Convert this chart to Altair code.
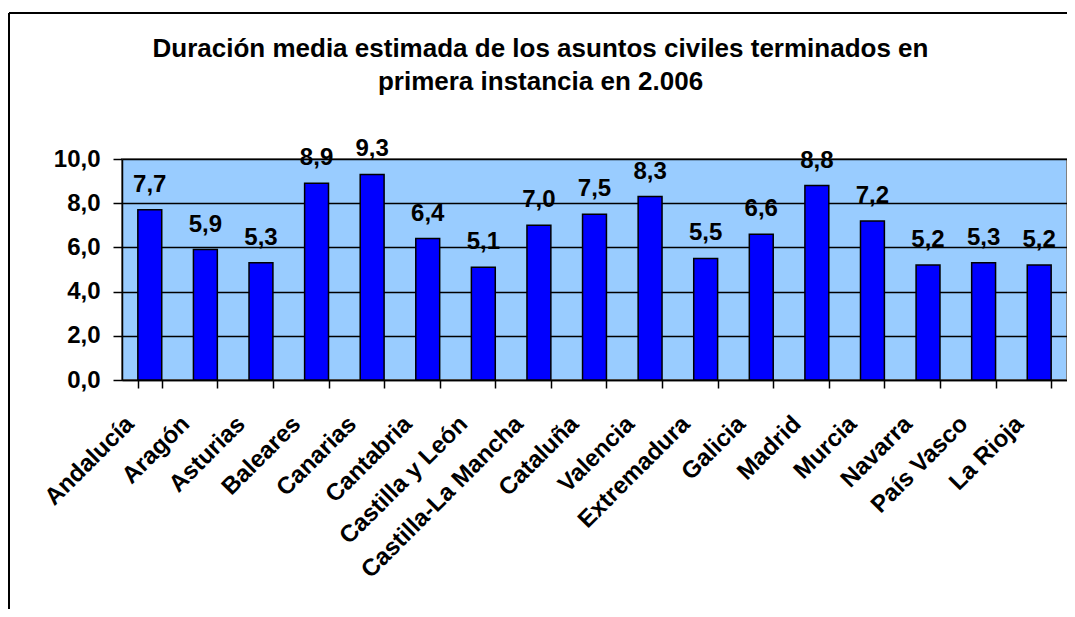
import altair as alt
import pandas as pd

regions = ["Andalucía", "Aragón", "Asturias", "Baleares", "Canarias", "Cantabria",
           "Castilla y León", "Castilla-La Mancha", "Cataluña", "Valencia",
           "Extremadura", "Galicia", "Madrid", "Murcia", "Navarra", "País Vasco",
           "La Rioja"]
values = [7.7, 5.9, 5.3, 8.9, 9.3, 6.4, 5.1, 7.0, 7.5, 8.3, 5.5, 6.6, 8.8, 7.2,
          5.2, 5.3, 5.2]
title_lines = ["Duración media estimada de los asuntos civiles terminados en",
               "primera instancia en 2.006"]

df = pd.DataFrame({"region": regions, "valor": values})
df["etiqueta"] = [f"{v:.1f}".replace(".", ",") for v in values]

FONT = "Liberation Sans"
W, H = 945, 221

x_enc = alt.X(
    "region:N", sort=regions, title=None,
    scale=alt.Scale(paddingInner=0.57, paddingOuter=0.285),
    axis=alt.Axis(labelAngle=-45, labelAlign="right", labelBaseline="alphabetic",
                  labelFont=FONT, labelFontSize=24, labelFontWeight="bold",
                  labelColor="black", labelPadding=37, labelOffset=-15,
                  labelLimit=0, tickBand="extent",
                  tickColor="black", tickSize=8, tickWidth=1.5,
                  domainColor="black", domainWidth=1.5, grid=False,
                  labelOverlap=False),
)
y_enc = alt.Y(
    "valor:Q", title=None,
    scale=alt.Scale(domain=[0, 10], nice=False),
    axis=alt.Axis(values=[0, 2, 4, 6, 8, 10],
                  labelExpr="replace(format(datum.value, '.1f'), '.', ',')",
                  labelFont=FONT, labelFontSize=24, labelFontWeight="bold",
                  labelColor="black", labelPadding=13, tickColor="black",
                  tickSize=9, tickWidth=1.5, domainColor="black",
                  domainWidth=1.5, grid=True, gridColor="black",
                  gridWidth=1.5),
)

base = alt.Chart(df)
bars = base.mark_bar(color="#0000FF", stroke="black", strokeWidth=1.5).encode(
    x=x_enc, y=y_enc)
labels = base.mark_text(font=FONT, fontSize=24, fontWeight="bold", color="black",
                        baseline="alphabetic", dy=-18).encode(
    x=alt.X("region:N", sort=regions), y="valor:Q", text="etiqueta:N")

one = pd.DataFrame({"k": [0]})
title1 = alt.Chart(one).mark_text(text=title_lines[0], font=FONT, fontSize=26,
                                  fontWeight="bold", color="black",
                                  align="center", baseline="alphabetic").encode(
    x=alt.value(418.5), y=alt.value(-102))
title2 = alt.Chart(one).mark_text(text=title_lines[1], font=FONT, fontSize=26,
                                  fontWeight="bold", color="black",
                                  align="center", baseline="alphabetic").encode(
    x=alt.value(418.5), y=alt.value(-69))
left_rule = alt.Chart(one).mark_rule(color="black", strokeWidth=2).encode(
    x=alt.value(-113), y=alt.value(-146), y2=alt.value(450))
top_rule = alt.Chart(one).mark_rule(color="black", strokeWidth=2).encode(
    x=alt.value(-113), x2=alt.value(945), y=alt.value(-146))

chart = alt.layer(bars, labels, title1, title2, left_rule, top_rule).properties(
    width=W, height=H,
    autosize=alt.AutoSizeParams(type="none"),
    padding={"left": 114, "top": 151, "right": 0, "bottom": 229},
).configure_view(fill="#99CCFF", stroke="#808080", strokeWidth=2)

chart.save("out.html", embed_options={"renderer": "svg", "actions": False})
